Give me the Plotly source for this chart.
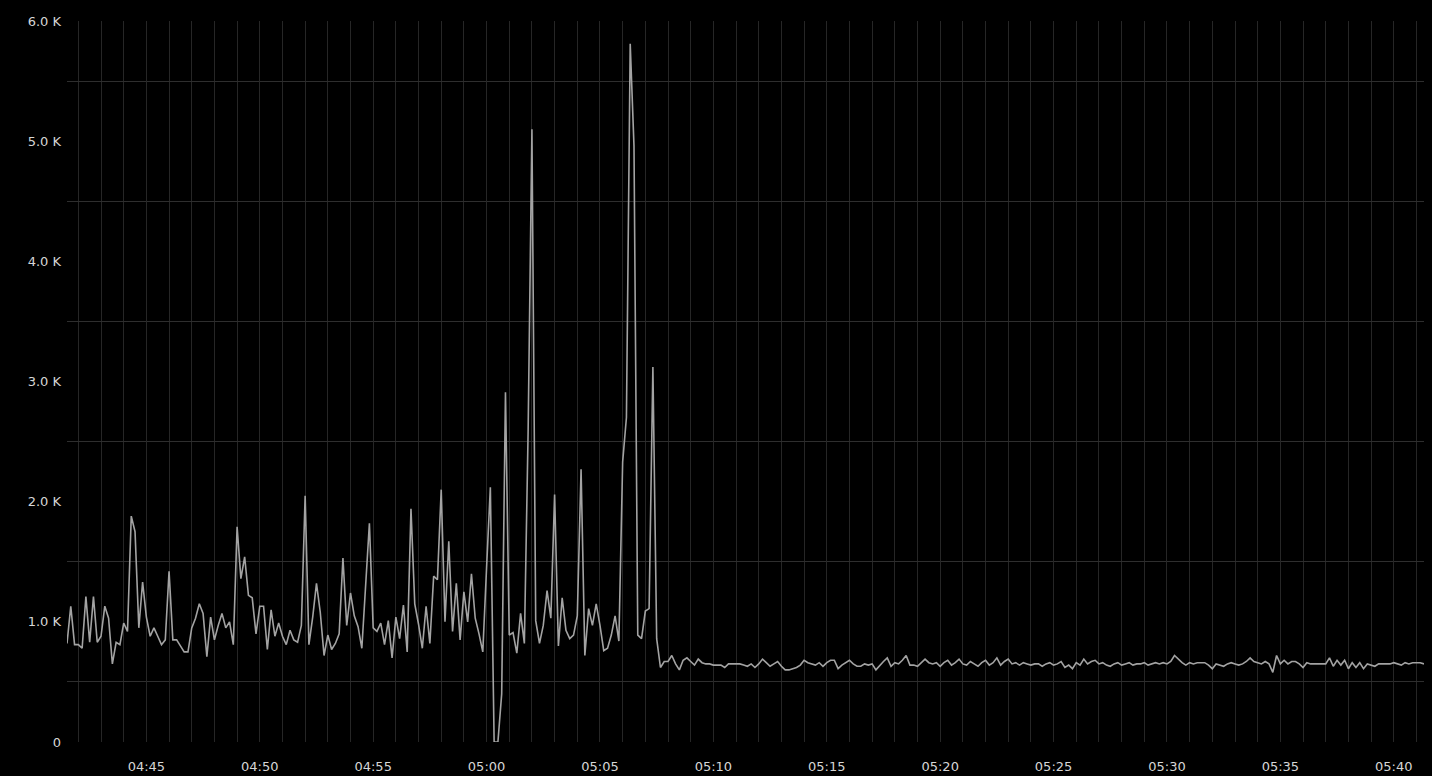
import plotly.graph_objects as go
import pandas as pd

# ---- data ----
START = "2013-06-10 04:41:30"
STEP_SECONDS = 10
VALUES = [
    820, 1130, 810, 810, 780, 1210, 830, 1210, 830, 880,
    1130, 1030, 650, 830, 810, 990, 920, 1880, 1750, 950,
    1330, 1040, 880, 950, 880, 810, 850, 1420, 850, 850,
    800, 750, 750, 950, 1030, 1150, 1070, 710, 1040, 850,
    970, 1070, 950, 1000, 810, 1790, 1360, 1540, 1220, 1200,
    900, 1130, 1130, 770, 1100, 880, 990, 880, 810, 930,
    850, 830, 970, 2050, 810, 1040, 1320, 1080, 720, 890,
    770, 820, 900, 1530, 970, 1240, 1050, 960, 780, 1300,
    1820, 950, 920, 990, 810, 1010, 700, 1040, 860, 1140,
    750, 1940, 1150, 980, 780, 1130, 820, 1380, 1350, 2100,
    1000, 1670, 920, 1320, 850, 1250, 1000, 1400, 1030, 900,
    750, 1450, 2120, 0, 0, 400, 2910, 890, 910, 740,
    1070, 820, 2600, 5100, 1010, 820, 970, 1260, 1030, 2060,
    800, 1200, 930, 860, 890, 1050, 2270, 720, 1110, 970,
    1150, 970, 760, 780, 890, 1050, 840, 2330, 2700, 5810,
    4960, 890, 860, 1090, 1110, 3120, 860, 620, 670, 670,
    720, 650, 600, 680, 700, 670, 640, 690, 660, 650,
    650, 640, 640, 640, 620, 650, 650, 650, 650, 640,
    630, 650, 620, 650, 690, 660, 630, 650, 670, 630,
    600, 600, 610, 620, 640, 680, 660, 650, 640, 660,
    630, 660, 680, 680, 610, 640, 660, 680, 650, 630,
    630, 650, 640, 650, 600, 640, 670, 700, 630, 660,
    650, 680, 720, 640, 640, 630, 660, 690, 660, 650,
    660, 630, 660, 680, 640, 660, 690, 650, 640, 670,
    650, 630, 660, 680, 640, 660, 700, 640, 670, 690,
    650, 660, 640, 660, 650, 640, 650, 650, 630, 650,
    660, 640, 650, 670, 620, 640, 610, 660, 640, 690,
    650, 670, 680, 650, 660, 640, 630, 650, 660, 640,
    650, 660, 640, 650, 650, 660, 640, 650, 660, 650,
    660, 650, 670, 720, 690, 660, 640, 660, 650, 660,
    660, 660, 640, 610, 650, 640, 630, 650, 660, 650,
    640, 650, 670, 700, 670, 660, 650, 670, 650, 580,
    720, 650, 680, 650, 670, 670, 650, 620, 660, 650,
    650, 650, 650, 650, 700, 630, 680, 640, 680, 610,
    660, 620, 660, 610, 650, 640, 630, 650, 650, 650,
    650, 660, 650, 640, 660, 650, 660, 660, 660, 650,
]
Y_TICK_VALUES = [0, 1000, 2000, 3000, 4000, 5000, 6000]
Y_TICK_LABELS = ["0", "1.0 K", "2.0 K", "3.0 K", "4.0 K", "5.0 K", "6.0 K"]
Y_GRID_VALUES = [500, 1500, 2500, 3500, 4500, 5500]
X_RANGE = ["2013-06-10 04:41:30", "2013-06-10 05:41:20"]
X_TICK0 = "2013-06-10 04:45:00"

times = pd.date_range(START, periods=len(VALUES), freq=f"{STEP_SECONDS}s")

fig = go.Figure()
fig.add_trace(go.Scatter(
    x=times, y=VALUES, mode="lines",
    line=dict(color="#a3a3a3", width=1.6),
    hoverinfo="x+y", showlegend=False,
))

font = dict(family="DejaVu Sans", size=13, color="#d6d6d6")

fig.update_layout(
    width=1432, height=776, autosize=False,
    margin=dict(l=67, r=8, t=21, b=34),
    paper_bgcolor="#000000", plot_bgcolor="#000000",
    font=font,
    showlegend=False,
)
fig.update_xaxes(
    type="date", range=X_RANGE, automargin=False,
    tickformat="%H:%M", dtick=300000, tick0=X_TICK0,
    showgrid=True, gridcolor="#262626", gridwidth=1,
    minor=dict(dtick=60000, tick0=X_TICK0, showgrid=True, gridcolor="#262626", gridwidth=1),
    zeroline=False, showline=False, ticks="",
    ticklabelstandoff=15,
    tickfont=font,
)
fig.update_yaxes(
    range=[0, 6000], automargin=False,
    tickmode="array", tickvals=Y_TICK_VALUES, ticktext=Y_TICK_LABELS,
    showgrid=False,
    minor=dict(tickmode="array", tickvals=Y_GRID_VALUES, showgrid=True,
               gridcolor="#2e2e2e", gridwidth=1),
    zeroline=False, showline=False, ticks="",
    ticklabelstandoff=5,
    tickfont=font,
)

fig.write_html(
    "out.html",
    config={"responsive": False, "displayModeBar": False},
    post_script="document.body.style.margin='0';document.body.style.overflow='hidden';"
                "document.body.style.background='#000';"
                "document.documentElement.style.background='#000';",
)
